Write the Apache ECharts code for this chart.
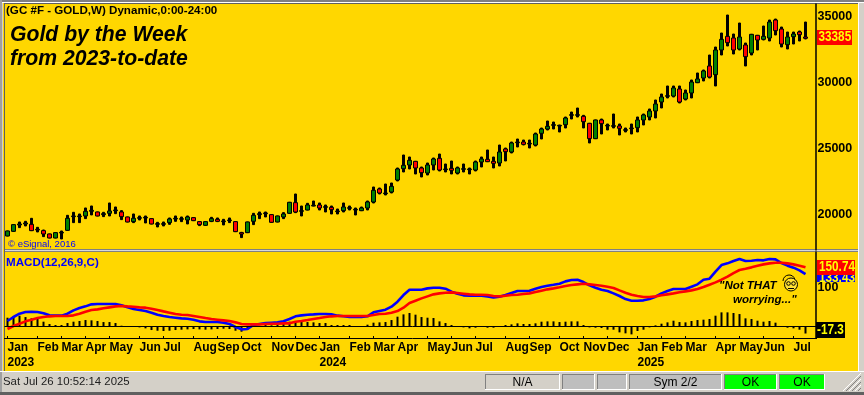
<!DOCTYPE html>
<html>
<head>
<meta charset="utf-8">
<style>html,body{margin:0;padding:0;background:#D4D0C8}#c{width:864px;height:395px}</style>
<script src="https://cdn.jsdelivr.net/npm/echarts@6/dist/echarts.min.js"></script>
</head>
<body>
<div id="c"></div>
<script>
const openP = [18358,18713,19195,19270,19245,18865,18764,18510,18206,18586,
18789,19828,19828,19878,20233,20182,19980,20081,20283,20182,
19802,19448,19701,19726,19676,19245,19245,19372,19650,19625,
19574,19752,19448,19169,19473,19625,19448,19524,19448,18612,
18612,19473,19980,20055,19980,19422,19802,20081,20890,20232,
20333,20637,20713,20536,20536,20206,20282,20460,20333,20282,
20485,20941,21929,21575,21701,22613,23474,23753,24031,23525,
23145,23753,24259,23398,23499,23145,23423,23398,23373,23981,
24183,24031,23905,24969,24741,25450,25500,25349,25272,26159,
26488,26767,26717,26818,27527,27527,27452,26920,25755,27173,
26717,26692,26717,26388,26515,26590,27173,27401,27857,28541,
28971,28997,29529,28769,29225,30010,30365,31277,30618,32492,
33531,33404,32568,32872,32264,33607,33303,33404,34772,34088,
32898,33506,33860,33480];
const closeP = [18738,19220,19270,19346,18764,18814,18510,18206,18612,18637,
19701,19878,19878,20233,20309,19878,20055,20258,20334,19828,
19422,19701,19752,19777,19270,19296,19296,19650,19701,19676,
19802,19524,19220,19448,19676,19473,19498,19574,18688,18510,
19422,19929,20055,20106,19397,19878,20030,20917,20181,20282,
20713,20688,20485,20587,20358,20257,20561,20511,20384,20485,
20941,21828,21625,21625,22131,23449,23727,24107,23525,23170,
23753,24209,23373,23449,23347,23525,23474,23449,23981,24209,
24006,23879,24741,24766,25424,25500,25323,25400,26108,26488,
26691,26818,26767,27324,27578,27578,27046,25755,27173,26894,
26768,26743,26540,26438,26565,27173,27553,27857,28389,28921,
29022,29605,28541,29225,30061,30289,30897,30441,32492,33303,
33050,32492,33480,31986,33683,33252,33531,34620,33962,32948,
33480,33708,33658,33385];
const highP = [18738,19220,19422,19473,19701,19017,18814,18510,18612,18738,
19929,20157,20030,20486,20638,20182,20157,20866,20562,20283,
19802,20030,19878,19878,19676,19397,19422,19726,19878,19802,
19878,19752,19448,19448,19777,19726,19625,19726,19448,18637,
19422,20081,20182,20182,19980,19878,20131,20917,21549,20637,
20840,21017,20865,20713,20637,20409,20865,20637,20485,20561,
21017,22081,22005,22309,22385,23525,24513,24361,24031,23601,
23905,24285,24588,23829,24057,23601,23829,23525,24057,24361,
24893,24361,25272,25044,25500,25728,25652,25652,26184,26564,
27096,27020,26792,27400,27780,28084,27528,26920,27173,27249,
26869,27629,26869,26565,26869,27401,27629,28009,28693,29149,
29757,29757,29757,29453,30213,30745,30973,32112,32720,33784,
35152,33708,34544,33024,33683,33607,34316,34772,34848,34240,
33860,33860,33936,34620];
const lowP = [18358,18713,18992,19119,18764,18662,18307,18206,18206,18130,
18789,19372,19372,19676,19955,19878,19828,19878,20055,19600,
19422,19372,19574,19346,19270,19043,19119,19245,19473,19448,
19270,19524,19144,19169,19448,19448,19195,19372,18688,18232,
18612,19220,19676,19802,19397,19422,19676,20081,20130,19877,
20333,20637,20333,20181,20029,20029,20181,20333,19953,20282,
20333,20865,21549,21473,21625,22537,23221,23449,23069,22841,
22993,23373,23297,23221,23069,23069,23221,23069,23297,23601,
24006,23525,23677,24057,24665,25121,25272,25044,25197,25728,
26412,26488,26260,26564,27248,27400,26565,25425,25755,26109,
26413,26565,26033,26261,26109,26261,26793,27173,27325,28085,
28845,28921,28465,28693,28845,30010,30137,30365,29757,32112,
32796,32188,32492,31277,32112,32492,33252,33176,33632,32720,
32568,32948,33176,33328];
const macdLine = [14.4,24.6,33,37.3,38.1,37.3,33.9,28.8,28,28,33,41.5,47.4,51.6,56.7,57.6,57.6,57.6,57.6,54.2,
49.1,44.9,42.3,39.8,35.6,30.5,27.1,24.6,22.9,21.2,20.3,17.8,13.6,11.9,11.9,11.9,10.2,6.8,-0.8,-6.7,
-5.9,4.3,6.8,9.3,10.2,11,13.6,19.5,
26.3,28.8,30.5,31.3,32.2,32.2,31.3,28,26.3,24.6,24.6,24.6,26.3,36.4,39.8,43.2,50.8,63.5,80.4,93.9,93.9,93.9,
97.3,99,99,96.5,88.9,83.8,79.6,78.7,78.7,78.7,77,74.5,76.2,80.4,85.5,90.6,90.6,91.4,96.5,100.7,
104.1,106.6,109.2,115,118.5,119.3,
113.4,104.9,99,93.9,90.6,84.6,77.9,70.2,66,66,66.9,70.2,76.2,84.6,90.6,95.6,95.6,95.6,101.6,107.5,
119.3,121.9,139.6,156.5,160.8,166.7,171.8,166.7,167.5,169.2,168.4,171.8,170.9,161.6,154.9,149.8,143,133.43];
const signalLine = [-5.9,1.7,7.6,13.6,17.8,22,24.6,26.3,27.1,27.1,27.1,28.8,33,38.1,42.3,44,46.6,49.1,51.6,52.5,
51.6,50.8,49.1,48.3,45.7,42.3,38.9,35.6,32.2,30.5,29.6,27.1,24.6,22,19.5,17.8,16.1,14.4,11,6.8,
6,6,6,6.8,7.6,7.6,8.5,8.5,
12.7,14.4,16.9,19.5,22,24.6,26.3,27.1,27.1,27.1,27.1,27.1,27.1,29.6,32.2,33,35.6,39.8,48.3,60.1,66,71.9,
77,82.1,84.6,86.3,87.2,85.5,83.8,82.1,81.2,81.2,80.4,77.9,77,78.7,80.4,81.2,82.9,84.6,88,91.4,
94.8,97.3,99.9,103.2,105.8,107.5,
109.2,107.5,105.8,104.1,101.6,98.2,92.2,86.3,81.2,77.9,75.3,75.3,77,79.6,82.1,84.6,87.2,89.7,92.2,95.6,
100.7,106.6,112.5,119.3,126.9,136.2,143.9,147.2,150.6,154.9,158.2,160.8,162.5,162.5,160.8,158.2,154.9,150.74];
const histBars = [22.8,27.1,27.9,24.5,21.2,19.5,12.7,6.8,4.2,4.2,9.3,12.7,14.4,16.9,16.1,14.4,11.8,11.8,9.3,2.5,
0,-0.8,-1.7,-4.2,-8.5,-10.2,-11,-10.2,-8.5,-7.6,-6.8,-5.9,-6.8,-7.6,-6.8,-5.9,-5.1,-5.9,-10.2,-12.7,
-7.6,0,0.8,5.9,3.4,4.2,7.6,12.7,
11.8,11.8,11.8,11,9.3,9.3,4.2,4.2,4.2,4.2,0,0,5.1,10.2,11,11.8,16.9,25.4,31.3,34.7,
30.5,24.5,22.8,22,13.5,9.3,4.2,0,-1.7,-4.2,-2.5,0,-2.5,-2.5,0,4.2,5.9,8.5,6.8,6.8,
8.5,12.7,13.5,13.5,11.8,12.7,13.5,13.5,
4.2,-1.7,-2.5,-3.4,-7.6,-7.6,-14.4,-16.9,-19.5,-11,-7.6,-1.7,3.4,7.6,11,15.2,11.8,11,14.4,16.9,
17.8,19.5,27.9,36.4,36.4,34.7,32.1,21.2,19.5,15.2,12.7,14.4,10.2,0,-2.5,-4.2,-7.6,-17.3];
const tickIndex = [0,5,9,13,17,22,26,31,35,39,44,48,52,57,61,65,70,74,78,83,87,92,96,100,105,109,113,118,122,126,131];
const tickLabel = ['Jan\n2023','Feb','Mar','Apr','May','Jun','Jul','Aug','Sep','Oct','Nov','Dec','Jan\n2024','Feb','Mar','Apr','May','Jun','Jul','Aug','Sep','Oct','Nov','Dec','Jan\n2025','Feb','Mar','Apr','May','Jun','Jul'];
const priceTicks = [20000,25000,30000,35000];
const macdTicks = [100];

const slots = 136;
const categories = Array.from({length: slots}, (_, i) => {
  const k = tickIndex.indexOf(i);
  return k >= 0 ? tickLabel[k] : '';
});
const isTick = i => tickIndex.indexOf(i) >= 0;
const FONT = '"Liberation Sans", Arial, sans-serif';
const gold = '#FFD700', chrome = '#D4D0C8';

const rect = (x, y, w, h, fill, z, stroke) => ({type:'rect', silent:true, z, shape:{x,y,width:w,height:h}, style:{fill, stroke:stroke||null, lineWidth:stroke?1:0}});
const hline = (x1, y1, x2, y2, c, z, lw) => ({type:'line', silent:true, z, shape:{x1,y1,x2,y2}, style:{stroke:c, lineWidth:lw||1}});
const text = (x, y, t, font, fill, z, extra) => ({type:'text', silent:true, z, x, y, style:Object.assign({text:t, font, fill, textVerticalAlign:'middle'}, extra||{})});
const flag = (x, y, t, z) => Object.assign(text(x, y, t, 'bold 14px '+FONT, '#FFFF00', z), {scaleX:0.84});

const box = (x, y, w, h, fill, label, col) => [
  rect(x, y, w, h, fill, 1),
  hline(x, y+.5, x+w, y+.5, '#808080', 1), hline(x+.5, y, x+.5, y+h, '#808080', 1),
  hline(x, y+h-.5, x+w, y+h-.5, '#FFFFFF', 1), hline(x+w-.5, y, x+w-.5, y+h, '#FFFFFF', 1),
  text(x+w/2, y+h/2+.5, label, '12px '+FONT, col||'#000', 2, {textAlign:'center'})
];

const graphic = [
  rect(0, 0, 864, 395, chrome, -10),
  rect(0, 0, 864, 2, '#808080', -9),
  rect(0, 2, 864, 1, '#FFFFFF', -9),
  rect(0, 0, 2, 395, '#A0A0A0', -9),
  rect(3, 3, 856, 368, gold, -8),
  hline(4.5, 3, 4.5, 371, '#606060', -7),
  hline(5, 3.5, 859, 3.5, '#606060', -7),
  rect(5, 249, 854, 3, '#D8D8D8', -7),
  hline(5, 251.5, 859, 251.5, '#808080', -7),
  hline(5, 249.5, 859, 249.5, '#808080', -7),
  rect(858, 3, 1, 368, '#FFFFFF', -7),
  rect(0, 371, 864, 1, '#FFFFFF', -7),
  rect(0, 392, 864, 3, '#606060', -9),
  rect(817, 4, 41, 245, gold, 5),
  rect(817, 252, 41, 119, gold, 5),
  text(6, 11, '(GC #F - GOLD,W) Dynamic,0:00-24:00', 'bold 11.6px '+FONT, '#000', 20),
  text(10, 35, 'Gold by the Week', 'italic bold 21.2px '+FONT, '#000', 20),
  text(10, 59, 'from 2023-to-date', 'italic bold 21.2px '+FONT, '#000', 20),
  text(8, 244, '\u00A9 eSignal, 2016', '9.5px '+FONT, '#0000FF', 20),
  text(6, 262.5, 'MACD(12,26,9,C)', 'bold 11.6px '+FONT, '#0000FF', 20),
  text(719, 286, '"Not THAT', 'italic bold 11.5px '+FONT, '#000', 20),
  text(733, 299.5, 'worrying..."', 'italic bold 11.5px '+FONT, '#000', 20),
  rect(817, 30, 35, 15, '#FF0000', 12),
  flag(818.5, 37.5, '33385', 20),
  rect(817, 273, 38, 9, '#0000FF', 12),
  flag(819, 278, '133.43', 13),
  rect(817, 260, 38, 15, '#FF0000', 14),
  flag(819, 267.5, '150.74', 20),
  rect(816, 322, 29, 16, '#000000', 12),
  flag(817, 330.5, '-17.3', 20),
  {type:'circle', silent:true, z:21, shape:{cx:791,cy:284.5,r:6.5}, style:{fill:'#FFE135',stroke:'#000',lineWidth:1}},
  {type:'arc', silent:true, z:21, shape:{cx:789,cy:281,r:6,startAngle:Math.PI,endAngle:Math.PI*1.9}, style:{stroke:'#000',lineWidth:1,fill:null}},
  {type:'circle', silent:true, z:21, shape:{cx:788.5,cy:283.5,r:1.8}, style:{fill:'#FFE135',stroke:'#000',lineWidth:1}},
  {type:'circle', silent:true, z:21, shape:{cx:793.5,cy:283.5,r:1.8}, style:{fill:'#FFE135',stroke:'#000',lineWidth:1}},
  hline(788, 288.5, 794, 288.5, '#000', 21),
  text(3, 382, 'Sat Jul 26 10:52:14 2025', '11.4px '+FONT, '#202020', 2),
  ...box(485, 374, 75, 16, chrome, 'N/A'),
  ...box(562, 374, 33, 16, '#BEBEBE', ''),
  ...box(597, 374, 30, 16, '#BEBEBE', ''),
  ...box(629, 374, 93, 16, '#BEBEBE', 'Sym 2/2'),
  ...box(724, 374, 53, 16, '#00FF00', 'OK'),
  ...box(779, 374, 46, 16, '#00FF00', 'OK'),
  hline(843, 391, 861, 373, '#FFFFFF', 2), hline(846, 391, 861, 376, '#808080', 2),
  hline(849, 391, 861, 379, '#FFFFFF', 2), hline(852, 391, 861, 382, '#808080', 2),
  hline(855, 391, 861, 385, '#FFFFFF', 2), hline(858, 391, 861, 388, '#808080', 2)
];

const chart = echarts.init(document.getElementById('c'), null, {renderer:'canvas'});
chart.setOption({
  animation:false,
  backgroundColor:'transparent',
  grid:[
    {left:4.5, top:4, width:816, height:246},
    {left:4.5, top:252, width:816, height:86}
  ],
  xAxis:[
    {type:'category', gridIndex:0, data:categories, axisLine:{show:false}, axisTick:{show:false}, axisLabel:{show:false}, splitLine:{show:false}},
    {type:'category', gridIndex:1, data:categories,
      axisLine:{show:true, onZero:false, lineStyle:{color:'#000', width:1}},
      axisTick:{show:true, inside:true, length:2, alignWithLabel:true, interval:(i)=>isTick(i), lineStyle:{color:'#000'}},
      axisLabel:{show:true, interval:(i)=>isTick(i), align:'left', verticalAlign:'top', margin:2, lineHeight:15, color:'#000', fontWeight:'bold', fontSize:12, fontFamily:FONT, hideOverlap:false},
      splitLine:{show:false}}
  ],
  yAxis:[
    {type:'value', gridIndex:0, position:'right', offset:-4.5, z:10, min:17292, max:35988, scale:true,
      axisLine:{show:true, lineStyle:{color:'#000', width:1.5}}, axisTick:{show:false}, splitLine:{show:false},
      axisLabel:{show:true, customValues:priceTicks, formatter:v=>String(v), margin:1.5, color:'#000', fontWeight:'bold', fontSize:12.5, fontFamily:FONT}},
    {type:'value', gridIndex:1, position:'right', offset:-4.5, z:10, min:-28.7, max:189.6, scale:true,
      axisLine:{show:true, lineStyle:{color:'#000', width:1.5}}, axisTick:{show:false}, splitLine:{show:false},
      axisLabel:{show:true, customValues:macdTicks, formatter:v=>String(v), margin:1.5, color:'#000', fontWeight:'bold', fontSize:12.5, fontFamily:FONT}}
  ],
  series:[
    {name:'Range', type:'candlestick', xAxisIndex:0, yAxisIndex:0, z:2, barWidth:3, silent:true,
      data:lowP.map((l,i)=>[l,highP[i],l,highP[i]]),
      itemStyle:{color:'#000',color0:'#000',borderColor:'#000',borderColor0:'#000',borderColorDoji:'#000',borderWidth:1}},
    {name:'GOLD', type:'candlestick', xAxisIndex:0, yAxisIndex:0, z:3, barWidth:4, silent:true,
      data:openP.map((o,i)=>[o,closeP[i],lowP[i],highP[i]]),
      itemStyle:{color:'#008000',color0:'#FF0000',borderColor:'#000',borderColor0:'#000',borderColorDoji:'#000',borderWidth:1}},
    {name:'Histogram', type:'bar', xAxisIndex:1, yAxisIndex:1, z:2, barWidth:2, silent:true, data:histBars, itemStyle:{color:'#000'},
      markLine:{silent:true, symbol:'none', label:{show:false}, lineStyle:{color:'#000', width:1, type:'solid'}, data:[{yAxis:0}]}},
    {name:'MACD', type:'line', xAxisIndex:1, yAxisIndex:1, z:3, symbol:'none', silent:true, data:macdLine, lineStyle:{color:'#0000FF', width:2.6}},
    {name:'Signal', type:'line', xAxisIndex:1, yAxisIndex:1, z:4, symbol:'none', silent:true, data:signalLine, lineStyle:{color:'#FF0000', width:2.6}}
  ],
  graphic:{elements:graphic}
});
</script>
</body>
</html>
